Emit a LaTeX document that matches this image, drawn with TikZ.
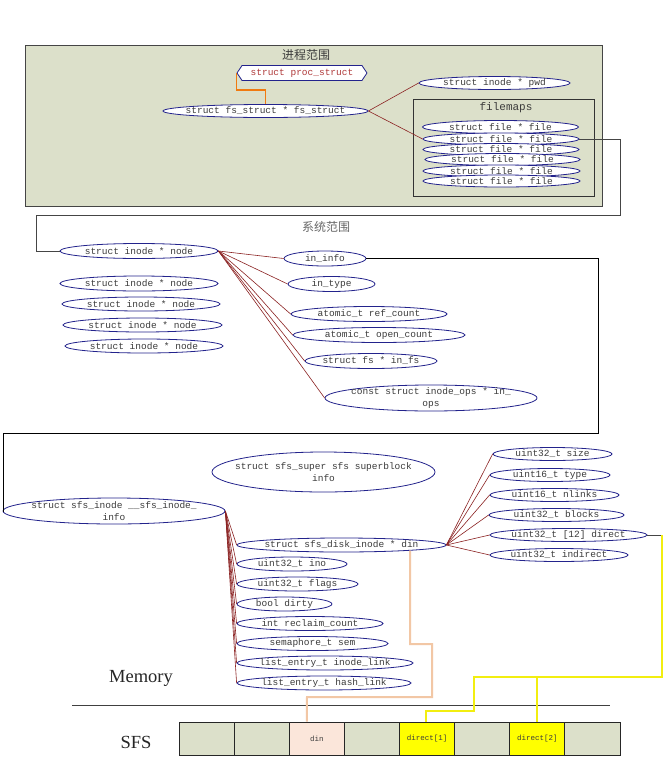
\documentclass[tikz,border=0pt]{standalone}
\usepackage{fontspec}
\setmainfont{Liberation Serif}
\newfontfamily\monof{Liberation Mono}
\newfontfamily\cjkf{Noto Sans CJK SC}
\usetikzlibrary{shapes.geometric,shapes.symbols}

\definecolor{boxfill}{HTML}{DCE0CA}
\definecolor{navy}{HTML}{23238C}
\definecolor{linkred}{HTML}{8B2222}
\definecolor{txtgray}{HTML}{3C3C3C}
\definecolor{procred}{HTML}{B03A3A}
\definecolor{orangeline}{HTML}{F07A10}
\definecolor{peachline}{HTML}{F2C7A5}
\definecolor{dinfill}{HTML}{FBE6DA}
\definecolor{yel}{HTML}{F2EE10}
\definecolor{yelfill}{HTML}{FFFF00}
\definecolor{framegray}{HTML}{454545}

\tikzset{
  lbl/.style={inner sep=0pt, text=txtgray, align=center, font=\monof\fontsize{9.5}{12}\selectfont},
  fld/.style n args={3}{ellipse, draw=navy, line width=0.8pt, fill=white, inner sep=0pt,
     minimum width=#1, minimum height=#2, label={[lbl]center:{#3}}},
  link/.style={draw=linkred, line width=0.6pt},
  conn/.style={draw=framegray, line width=0.9pt},
  region/.style={draw=framegray, line width=1pt, anchor=north west, inner sep=0pt},
  cjktitle/.style={inner sep=0pt, text=txtgray, font=\cjkf\fontsize{12}{14}\selectfont},
  cell/.style={rectangle, draw=black!85, line width=0.8pt, minimum width=55.125pt,
     minimum height=33pt, inner sep=0pt, text=txtgray, font=\monof\fontsize{7.5}{9}\selectfont},
  bigtxt/.style={inner sep=0pt, text=black!85, font=\fontsize{18.5}{20}\selectfont},
}

\begin{document}
\begin{tikzpicture}[x=1pt,y=-1pt]
\useasboundingbox (0,0) rectangle (667,758);
\fill[white] (0,0) rectangle (667,758);

% ---------- process region ----------
\node[region, fill=boxfill, minimum width=577, minimum height=161] (procbox) at (25,45) {};
\node[cjktitle] (proctitle) at (306,55) {进程范围};
\node[region, line width=1.3pt, draw=black!80, minimum width=181, minimum height=97] (fmbox) at (413,99) {};
\node[inner sep=0pt, text=txtgray, font=\monof\fontsize{11}{13}\selectfont] (fmtitle) at (506,108) {filemaps};

\node[signal, signal to=west and east, signal pointer angle=112, draw=navy, line width=0.8pt, fill=white,
      minimum width=130, minimum height=15, inner sep=0pt, text=procred,
      font=\monof\fontsize{9.5}{12}\selectfont] (proc) at (302,73) {struct proc\_struct};
\node[fld={205}{13}{struct fs\_struct * fs\_struct}] (fs) at (265.5,111) {};
\node[fld={151}{13}{struct inode * pwd}] (pwd) at (494.5,83) {};
\node[fld={156}{13}{struct file * file}] (f1) at (500.5,127) {};
\node[fld={156}{12}{struct file * file}] (f2) at (501,139) {};
\node[fld={156}{12}{struct file * file}] (f3) at (501,149.5) {};
\node[fld={155}{12}{struct file * file}] (f4) at (502.5,159.5) {};
\node[fld={157}{12}{struct file * file}] (f5) at (501.5,171) {};
\node[fld={157}{12}{struct file * file}] (f6) at (501.5,181) {};

\draw[orangeline, line width=1.6pt] (proc.west) -- ++(0,17) -| (fs.north);
\draw[link] (fs.east) -- (pwd.west);
\draw[link] (fs.east) -- (f2.west);

% ---------- system region ----------
\coordinate (c1) at (620,215);
\coordinate (c2) at (36,215);
\node[cjktitle, text=black!60] (systitle) at (326,227) {系统范围};

\node[fld={158}{15}{struct inode * node}] (in0) at (139,251) {};
\node[fld={158}{15}{struct inode * node}] (in1) at (139,283.5) {};
\node[fld={158}{14}{struct inode * node}] (in2) at (141,304) {};
\node[fld={159}{14}{struct inode * node}] (in3) at (142.5,325) {};
\node[fld={158}{14}{struct inode * node}] (in4) at (144,346) {};

\node[fld={82}{15}{in\_info}] (info) at (325,258.5) {};
\node[fld={87}{15}{in\_type}] (itype) at (331.5,284) {};
\node[fld={156}{15}{atomic\_t ref\_count}] (ref) at (369,314) {};
\node[fld={172}{15}{atomic\_t open\_count}] (open) at (379,335) {};
\node[fld={132}{15}{struct fs * in\_fs}] (infs) at (371,361) {};
\node[fld={212}{26}{const struct inode\_ops * in\_\\ops}] (ops) at (431,398) {};

\draw[conn] (f2.east) -| (c1) -- (c2) |- (in0.west);
\foreach \t in {info,itype,ref,open,infs,ops} \draw[link] (in0.east) -- (\t.west);

% ---------- sfs inode region ----------
\coordinate (c3) at (598,433);
\coordinate (c4) at (3,433);
\node[fld={223}{40}{struct sfs\_super sfs superblock\\info}] (super) at (323.5,472) {};
\node[fld={222}{26}{struct sfs\_inode \_\_sfs\_inode\_\\info}] (sfs) at (114,511) {};
\draw[conn, draw=black] (info.east) -| (c3) -- (c4) |- (sfs.west);

\node[fld={209}{14}{struct sfs\_disk\_inode * din}] (din) at (341.5,545) {};
\node[fld={110}{14}{uint32\_t ino}] (ino) at (292,564) {};
\node[fld={121}{14}{uint32\_t flags}] (flags) at (297.5,584) {};
\node[fld={95}{14}{bool dirty}] (dirty) at (284.5,604) {};
\node[fld={146}{14}{int reclaim\_count}] (reclaim) at (310,623.5) {};
\node[fld={151}{14}{semaphore\_t sem}] (sem) at (312.5,643.5) {};
\node[fld={176}{14}{list\_entry\_t inode\_link}] (ilink) at (325,663) {};
\node[fld={174}{14}{list\_entry\_t hash\_link}] (hlink) at (324,683) {};
\foreach \t in {din,ino,flags,dirty,reclaim,sem,ilink,hlink} \draw[link] (sfs.east) -- (\t.west);

\node[fld={119}{13}{uint32\_t size}] (size) at (552.5,454) {};
\node[fld={120}{13}{uint16\_t type}] (type2) at (550,475) {};
\node[fld={129}{13}{uint16\_t nlinks}] (nlinks) at (554.5,495) {};
\node[fld={135}{13}{uint32\_t blocks}] (blocks) at (556.5,515) {};
\node[fld={157}{13}{uint32\_t [12] direct}] (direct) at (568.5,535) {};
\node[fld={138}{13}{uint32\_t indirect}] (indirect) at (559,555) {};
\foreach \t in {size,type2,nlinks,blocks,direct,indirect} \draw[link] (din.east) -- (\t.west);

% ---------- memory / SFS ----------
\node[bigtxt] (memtxt) at (141,678) {Memory};
\node[bigtxt] (sfstxt) at (136,742) {SFS};
\draw[draw=black!75, line width=1pt] (72,705) -- (610,705);

\node[cell, fill=boxfill] (s1) at (206.56,738.5) {};
\node[cell, fill=boxfill] (s2) at (261.69,738.5) {};
\node[cell, fill=dinfill] (s3) at (316.81,738.5) {din};
\node[cell, fill=boxfill] (s4) at (371.94,738.5) {};
\node[cell, fill=yelfill] (s5) at (427.06,738.5) {direct[1]};
\node[cell, fill=boxfill] (s6) at (482.19,738.5) {};
\node[cell, fill=yelfill] (s7) at (537.31,738.5) {direct[2]};
\node[cell, fill=boxfill] (s8) at (592.44,738.5) {};

% din connector
\coordinate (dinfoot) at (410,550.5);
\coordinate (pA) at (432,644);
\coordinate (pB) at (307,697);
\draw[peachline, line width=2pt] ([xshift=-10pt]s3.north) -- (pB) -| (pA) -- (dinfoot |- pA) -- (dinfoot);

% direct connector
\coordinate (yA) at (662,535);
\coordinate (yB) at (662,677);
\coordinate (yC) at (474,711);
\draw[conn] (direct.east) -- (yA);
\draw[yel, line width=1.8pt] (yA) -- (yB) -| (s7.north);
\draw[yel, line width=1.8pt] (s7.north |- yB) -| (yC) -| ([xshift=-1pt]s5.north);
\end{tikzpicture}
\end{document}
